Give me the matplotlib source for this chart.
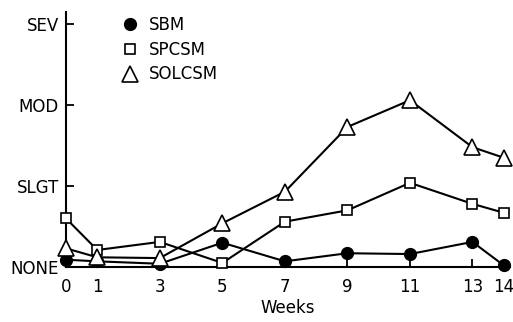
import matplotlib
matplotlib.use("Agg")
import matplotlib.pyplot as plt
from matplotlib.lines import Line2D

weeks = [0, 1, 3, 5, 7, 9, 11, 13, 14]
sbm = [0.09, 0.07, 0.04, 0.30, 0.07, 0.17, 0.16, 0.31, 0.02]
spcsm = [0.60, 0.21, 0.31, 0.05, 0.56, 0.70, 1.04, 0.78, 0.67]
solcsm = [0.23, 0.12, 0.11, 0.54, 0.93, 1.73, 2.06, 1.48, 1.35]
severity_labels = ["NONE", "SLGT", "MOD", "SEV"]
series_names = ["SBM", "SPCSM", "SOLCSM"]

plt.rcParams["font.family"] = ["DejaVu Sans"]
fs = 12

fig = plt.figure(figsize=(5.13, 3.22), dpi=100)
ax = fig.add_axes([66 / 513, 55 / 322, 444 / 513, 255 / 322])

lw = 1.5
ax.plot(weeks, sbm, color="black", lw=lw, marker="o", ms=8.5,
        mfc="black", mec="black", zorder=3, clip_on=False)
ax.plot(weeks, spcsm, color="black", lw=lw, marker="s", ms=7.5,
        mfc="white", mec="black", mew=1.2, zorder=4, clip_on=False)
ax.plot(weeks, solcsm, color="black", lw=lw, marker="^", ms=12,
        mfc="white", mec="black", mew=1.2, zorder=4, clip_on=False)

ax.set_xlim(0, 14.2)
ax.set_ylim(0, 3.15)
ax.set_xticks(weeks)
ax.set_xticklabels([str(w) for w in weeks])
ax.set_yticks(range(len(severity_labels)))
ax.set_yticklabels(severity_labels)

for s in ["top", "right"]:
    ax.spines[s].set_visible(False)
for s in ["left", "bottom"]:
    ax.spines[s].set_linewidth(1.5)

ax.tick_params(axis="both", direction="in", length=6, width=1.3,
               labelsize=fs, colors="black")
ax.tick_params(axis="x", pad=8)
ax.tick_params(axis="y", pad=5)
ax.set_xlabel("Weeks", fontsize=fs, labelpad=2)

handles = [
    Line2D([], [], ls="none", marker="o", ms=8.5, mfc="black", mec="black"),
    Line2D([], [], ls="none", marker="s", ms=7.5, mfc="white", mec="black", mew=1.2),
    Line2D([], [], ls="none", marker="^", ms=12, mfc="white", mec="black", mew=1.2),
]
ax.legend(handles, series_names, loc="upper left", bbox_to_anchor=(0.107, 1.01),
          frameon=False, fontsize=fs, handletextpad=0.5, labelspacing=0.4,
          handlelength=1.2, borderaxespad=0.0)

fig.savefig("out.png", dpi=100)
